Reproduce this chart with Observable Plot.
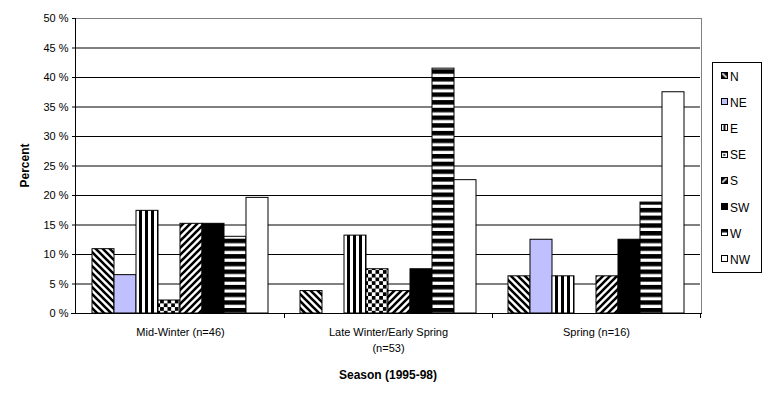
<!DOCTYPE html>
<html><head><meta charset="utf-8">
<script src="https://cdn.jsdelivr.net/npm/d3@7"></script>
<script src="https://cdn.jsdelivr.net/npm/@observablehq/plot@0.6"></script>
<style>
body{margin:0;background:#fff;}
svg{font-family:"Liberation Sans",Arial,sans-serif;}
</style>
</head><body><div id="chart"></div>
<script>
const seasons = ["Mid-Winter (n=46)", "Late Winter/Early Spring (n=53)", "Spring (n=16)"];
const seasonLabels = ["Mid-Winter (n=46)", "Late Winter/Early Spring\n(n=53)", "Spring (n=16)"];
const directions = ["N", "NE", "E", "SE", "S", "SW", "W", "NW"];
const midWinter = [10.9, 6.5, 17.4, 2.2, 15.2, 15.2, 13.0, 19.6];
const lateWinter = [3.8, 0, 13.2, 7.5, 3.8, 7.5, 41.5, 22.6];
const spring = [6.3, 12.5, 6.3, 0, 6.3, 12.5, 18.8, 37.5];
const yTicks = [0, 5, 10, 15, 20, 25, 30, 35, 40, 45, 50];
const gridTicks = [5, 10, 15, 20, 25, 30, 35, 40, 45];

const seriesBySeason = [midWinter, lateWinter, spring];
const data = [];
seasons.forEach((s, i) => directions.forEach((d, j) => data.push({season: s, dir: d, value: seriesBySeason[i][j]})));

const fills = {N: "url(#pN)", NE: "#c0c0ff", E: "url(#pE)", SE: "url(#pSE)", S: "url(#pS)", SW: "#000000", W: "url(#pW)", NW: "#ffffff"};
const legendFills = {N: "url(#lN)", NE: "#c0c0ff", E: "url(#lE)", SE: "url(#lSE)", S: "url(#lS)", SW: "#000000", W: "url(#lW)", NW: "#ffffff"};

const bars = directions.map(d => Plot.barY(data.filter(r => r.dir === d), {
  fx: "season", x: "dir", y: "value", fill: fills[d], stroke: "#000", strokeWidth: 1
}));

const plot = Plot.plot({
  width: 772, height: 395,
  marginLeft: 75, marginRight: 71, marginTop: 18, marginBottom: 82,
  style: {fontFamily: "'Liberation Sans', Arial, sans-serif", fontSize: "11px", background: "#fff", color: "#000"},
  fx: {domain: seasons, paddingInner: 0, paddingOuter: 0, label: null, axis: null},
  x: {domain: directions, paddingInner: 0, paddingOuter: 0.727, axis: null},
  y: {domain: [0, 50], label: null, axis: null},
  marks: [
    Plot.gridY(gridTicks, {stroke: "#000", strokeOpacity: 1}),
    ...bars,
    Plot.axisY(yTicks, {tickSize: 4, tickPadding: 4, tickFormat: d => d + " %", label: null, fontSize: 11}),
    Plot.axisFx({anchor: "bottom", tickSize: 0, tickPadding: 11, lineHeight: 1.45, fontSize: 11, tickFormat: d => seasonLabels[seasons.indexOf(d)], label: null})
  ]
});
document.getElementById("chart").appendChild(plot);

const svg = d3.select(plot);
const defs = svg.insert("defs", ":first-child");
function stripes(id, size, path, sw, bg = "#fff") {
  const p = defs.append("pattern").attr("id", id).attr("patternUnits", "userSpaceOnUse").attr("width", size).attr("height", size);
  p.append("rect").attr("width", size).attr("height", size).attr("fill", bg);
  p.append("path").attr("d", path).attr("stroke", "#000").attr("stroke-width", sw).attr("fill", "none");
}
// diagonal "\" and "/"
stripes("pN", 7, "M-1,-1L8,8M-1,6L1,8M6,-1L8,1", 2.6);
stripes("pS", 7, "M-1,8L8,-1M-1,1L1,-1M6,8L8,6", 2.6);
// vertical stripes
{
  const p = defs.append("pattern").attr("id", "pE").attr("patternUnits", "userSpaceOnUse").attr("width", 6).attr("height", 6);
  p.append("rect").attr("width", 6).attr("height", 6).attr("fill", "#fff");
  p.append("rect").attr("width", 3).attr("height", 6).attr("fill", "#000");
}
// horizontal stripes
{
  const p = defs.append("pattern").attr("id", "pW").attr("patternUnits", "userSpaceOnUse").attr("width", 8).attr("height", 7.7);
  p.append("rect").attr("width", 8).attr("height", 7.7).attr("fill", "#fff");
  p.append("rect").attr("width", 8).attr("height", 4.5).attr("fill", "#000");
}
// checkerboard
{
  const c = 3.7;
  const p = defs.append("pattern").attr("id", "pSE").attr("patternUnits", "userSpaceOnUse").attr("width", 2 * c).attr("height", 2 * c);
  p.append("rect").attr("width", 2 * c).attr("height", 2 * c).attr("fill", "#fff");
  p.append("rect").attr("width", c).attr("height", c).attr("fill", "#000");
  p.append("rect").attr("x", c).attr("y", c).attr("width", c).attr("height", c).attr("fill", "#000");
}
// legend swatch patterns (object bounding box)
function lpat(id, draw) {
  const p = defs.append("pattern").attr("id", id).attr("patternContentUnits", "objectBoundingBox").attr("width", 1).attr("height", 1);
  p.append("rect").attr("width", 1).attr("height", 1).attr("fill", "#fff");
  draw(p);
}
lpat("lN", p => { p.append("rect").attr("width", 1).attr("height", 1).attr("fill", "#000"); p.append("path").attr("d", "M0.1,0.1L0.9,0.9").attr("stroke", "#fff").attr("stroke-width", 0.25); });
lpat("lS", p => { p.append("rect").attr("width", 1).attr("height", 1).attr("fill", "#000"); p.append("path").attr("d", "M0.1,0.9L0.9,0.1").attr("stroke", "#fff").attr("stroke-width", 0.25); });
lpat("lE", p => { p.append("rect").attr("x", 0.35).attr("width", 0.3).attr("height", 1).attr("fill", "#000"); });
lpat("lW", p => { p.append("rect").attr("width", 1).attr("height", 0.45).attr("fill", "#000"); });
lpat("lSE", p => { p.append("rect").attr("width", 1).attr("height", 0.3).attr("fill", "#000"); p.append("rect").attr("x", 0.3).attr("y", 0.5).attr("width", 0.3).attr("height", 0.3).attr("fill", "#000"); });

const fx = plot.scale("fx");
const y = plot.scale("y");
const x0 = Math.round(fx.range[0]), x1 = Math.round(fx.range[1]);
const y0 = Math.round(y.apply(0)), y1 = Math.round(y.apply(50));
const g = svg.append("g").attr("fill", "none").attr("shape-rendering", "crispEdges");
g.append("rect").attr("x", x0 + 0.5).attr("y", y1 + 0.5).attr("width", x1 - x0).attr("height", y0 - y1).attr("stroke", "#808080");
g.append("line").attr("x1", x0 + 0.5).attr("x2", x0 + 0.5).attr("y1", y1).attr("y2", y0 + 1).attr("stroke", "#000");
g.append("line").attr("x1", x0 - 4).attr("x2", x1 + 1).attr("y1", y0 + 0.5).attr("y2", y0 + 0.5).attr("stroke", "#000");
seasons.forEach(s => {
  const xb = Math.round(fx.apply(s) + fx.bandwidth) + 0.5;
  g.append("line").attr("x1", xb).attr("x2", xb).attr("y1", y0).attr("y2", y0 + 5).attr("stroke", "#000");
});

// axis titles
svg.append("text").attr("transform", `translate(25,${(y0 + y1) / 2}) rotate(-90)`).attr("text-anchor", "middle").attr("dy", "0.35em")
  .attr("font-size", 12).attr("font-weight", "bold").text("Percent");
svg.append("text").attr("x", (x0 + x1) / 2).attr("y", 379).attr("text-anchor", "middle")
  .attr("font-size", 12).attr("font-weight", "bold").text("Season (1995-98)");

// legend
const lg = svg.append("g").attr("text-anchor", "start");
lg.append("rect").attr("x", 712.5).attr("y", 62.5).attr("width", 49).attr("height", 210).attr("fill", "#fff").attr("stroke", "#000").attr("shape-rendering", "crispEdges");
directions.forEach((d, i) => {
  const cy = 76 + i * 26.2;
  lg.append("rect").attr("x", 721.5).attr("y", cy - 3.5).attr("width", 6).attr("height", 6).attr("fill", legendFills[d]).attr("stroke", "#000").attr("shape-rendering", "crispEdges");
  lg.append("text").attr("x", 730).attr("y", cy).attr("dy", "0.38em").attr("font-size", 12).attr("text-anchor", "start").attr("fill", "#000").text(d);
});
</script>
</body></html>
